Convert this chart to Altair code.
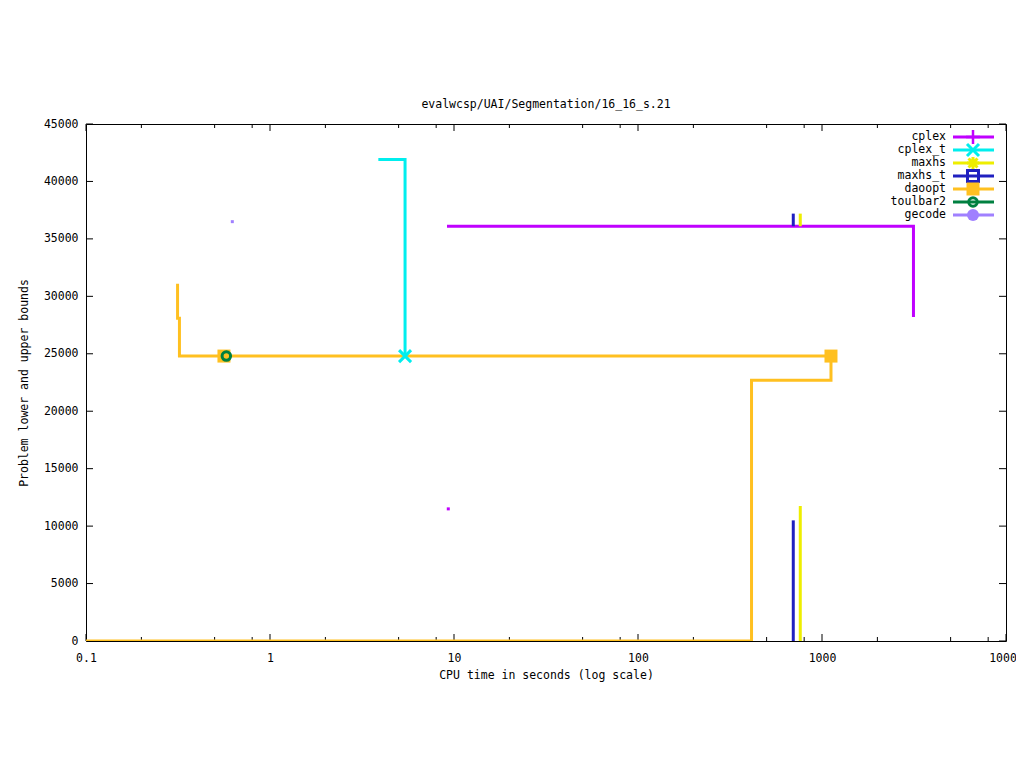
import altair as alt
import pandas as pd

FONT = "DejaVu Sans Mono"
FS = 11.5

series_names = ["cplex", "cplex_t", "maxhs", "maxhs_t", "daoopt", "toulbar2", "gecode"]
series_colors = ["#c000ff", "#00eeee", "#eeee00", "#2020c0", "#ffc020", "#008040", "#a080ff"]

# step lines (series, segment) -> times / values
cplex_up_t = [9.16, 3141]
cplex_up_v = [36100, 28200]
cplex_t_up_t = [3.88, 5.42]
cplex_t_up_v = [41900, 24800]
maxhs_lo_t = [762, 762]
maxhs_lo_v = [0, 11750]
maxhs_up_t = [762, 762]
maxhs_up_v = [37200, 36100]
maxhs_t_lo_t = [698, 698]
maxhs_t_lo_v = [0, 10500]
maxhs_t_up_t = [698, 698]
maxhs_t_up_v = [37200, 36100]
daoopt_up_t = [0.3145, 0.3145, 0.322, 1119]
daoopt_up_v = [31100, 28100, 24800, 24800]
daoopt_lo_t = [0.1, 414, 1119]
daoopt_lo_v = [0, 22700, 24800]

# point markers
marker_series = ["cplex_t", "daoopt", "daoopt", "toulbar2"]
marker_t = [5.42, 0.562, 1119, 0.579]
marker_v = [24800, 24800, 24800, 24800]

# isolated single-sample dots
dot_series = ["cplex", "gecode"]
dot_t = [9.31, 0.624]
dot_v = [11500, 36500]

x_major = [0.1, 1, 10, 100, 1000, 10000]
x_minor = [0.2, 0.5, 0.8, 2, 5, 8, 20, 50, 80, 200, 500, 800, 2000, 5000, 8000]
y_ticks = [0, 5000, 10000, 15000, 20000, 25000, 30000, 35000, 40000, 45000]

segments = [
    ("cplex", "up", cplex_up_t, cplex_up_v),
    ("cplex_t", "up", cplex_t_up_t, cplex_t_up_v),
    ("maxhs", "lo", maxhs_lo_t, maxhs_lo_v),
    ("maxhs", "up", maxhs_up_t, maxhs_up_v),
    ("maxhs_t", "lo", maxhs_t_lo_t, maxhs_t_lo_v),
    ("maxhs_t", "up", maxhs_t_up_t, maxhs_t_up_v),
    ("daoopt", "up", daoopt_up_t, daoopt_up_v),
    ("daoopt", "lo", daoopt_lo_t, daoopt_lo_v),
]
rows = []
for s, seg, ts, vs in segments:
    for i, (t, v) in enumerate(zip(ts, vs)):
        rows.append({"series": s, "seg": s + seg, "i": i, "t": t, "v": v})
lines_df = pd.DataFrame(rows)
markers_df = pd.DataFrame({"series": marker_series, "t": marker_t, "v": marker_v})
dots_df = pd.DataFrame({"series": dot_series, "t": dot_t, "v": dot_v})
legend_df = pd.DataFrame({"series": series_names, "idx": list(range(len(series_names)))})

W, H = 920, 517

x_scale = alt.Scale(type="log", domain=[0.1, 10000], nice=False)
y_scale = alt.Scale(domain=[0, 45000], nice=False, zero=True)
color = alt.Color("series:N", scale=alt.Scale(domain=series_names, range=series_colors), legend=None)

x_axis = alt.Axis(values=x_major, format="~g", title="CPU time in seconds (log scale)",
                  labelPadding=11, titlePadding=6, labelFlush=False, labelOverlap=False,
                  domain=False, ticks=False, grid=False)
y_axis = alt.Axis(values=y_ticks, format="d", title="Problem lower and upper bounds",
                  labelPadding=8, titlePadding=14, domain=False, ticks=False, grid=False)


def X(field="t"):
    return alt.X(f"{field}:Q", scale=x_scale, axis=x_axis)


def Y(field="v"):
    return alt.Y(f"{field}:Q", scale=y_scale, axis=y_axis)


# marker styles per series
P_PLUS = "M-1,0L1,0M0,-1L0,1"
P_X = "M-1,-1L1,1M-1,1L1,-1"
P_AST = "M-1,0L1,0M0,-1L0,1M-0.75,-0.75L0.75,0.75M-0.75,0.75L0.75,-0.75"
mstyle = {
    "cplex": dict(shape=P_PLUS, filled=False, size=196, strokeWidth=2.5),
    "cplex_t": dict(shape=P_X, filled=False, size=144, strokeWidth=3),
    "maxhs": dict(shape=P_AST, filled=False, size=144, strokeWidth=3),
    "maxhs_t": dict(shape="square", filled=False, size=121, strokeWidth=3),
    "daoopt": dict(shape="square", filled=True, size=169, strokeWidth=0),
    "toulbar2": dict(shape="circle", filled=False, size=72, strokeWidth=3),
    "gecode": dict(shape="circle", filled=True, size=144, strokeWidth=0),
}

main_layers = []

# inner ticks (bottom/top/left/right)
xmaj_df = pd.DataFrame({"t": x_major})
xmin_df = pd.DataFrame({"t": x_minor})
yt_df = pd.DataFrame({"v": y_ticks})
tick_color = "black"
main_layers.append(alt.Chart(xmaj_df).mark_rule(color=tick_color, strokeWidth=1).encode(
    x=X(), y=alt.value(H), y2=alt.value(H - 7)))
main_layers.append(alt.Chart(xmaj_df).mark_rule(color=tick_color, strokeWidth=1).encode(
    x=X(), y=alt.value(0), y2=alt.value(7)))
main_layers.append(alt.Chart(xmin_df).mark_rule(color=tick_color, strokeWidth=1).encode(
    x=X(), y=alt.value(H), y2=alt.value(H - 4)))
main_layers.append(alt.Chart(xmin_df).mark_rule(color=tick_color, strokeWidth=1).encode(
    x=X(), y=alt.value(0), y2=alt.value(4)))
main_layers.append(alt.Chart(yt_df).mark_rule(color=tick_color, strokeWidth=1).encode(
    y=Y(), x=alt.value(0), x2=alt.value(7)))
main_layers.append(alt.Chart(yt_df).mark_rule(color=tick_color, strokeWidth=1).encode(
    y=Y(), x=alt.value(W), x2=alt.value(W - 7)))

# step lines, in series order
for name in series_names:
    if name not in set(lines_df["series"]):
        continue
    main_layers.append(
        alt.Chart(lines_df).transform_filter(alt.datum.series == name)
        .mark_line(interpolate="step-after", strokeWidth=3, clip=True)
        .encode(x=X(), y=Y(), color=color, detail="seg:N", order="i:Q")
    )

# isolated dots
main_layers.append(
    alt.Chart(dots_df).mark_square(size=9, opacity=1).encode(x=X(), y=Y(), color=color)
)

# point markers
for name in series_names:
    if name not in set(markers_df["series"]):
        continue
    st = mstyle[name]
    main_layers.append(
        alt.Chart(markers_df).transform_filter(alt.datum.series == name)
        .mark_point(shape=st["shape"], filled=st["filled"], size=st["size"],
                    strokeWidth=st["strokeWidth"], opacity=1)
        .encode(x=X(), y=Y(), color=color)
    )

main = alt.layer(*main_layers)

# key (top-right, inside the frame)
ly = alt.Y("idx:Q", scale=alt.Scale(domain=[0, 6], range=[13, 91]), axis=None)
leg_layers = [
    alt.Chart(legend_df).mark_text(align="right", baseline="middle", font=FONT,
                                   fontSize=FS, color="black").encode(
        x=alt.value(860), y=ly, text="series:N"),
    alt.Chart(legend_df).mark_rule(strokeWidth=3).encode(
        x=alt.value(867), x2=alt.value(908), y=ly, color=color),
]
for name in series_names:
    st = mstyle[name]
    leg_layers.append(
        alt.Chart(legend_df).transform_filter(alt.datum.series == name)
        .mark_point(shape=st["shape"], filled=st["filled"], size=st["size"],
                    strokeWidth=st["strokeWidth"], opacity=1)
        .encode(x=alt.value(887), y=ly, color=color)
    )
legend = alt.layer(*leg_layers)

chart = (
    alt.layer(main, legend)
    .resolve_scale(y="independent")
    .properties(
        width=W,
        height=H,
        title=alt.TitleParams("evalwcsp/UAI/Segmentation/16_16_s.21", font=FONT, fontSize=FS,
                              fontWeight="normal", color="black", offset=8, anchor="middle",
                              frame="group"),
        autosize=alt.AutoSizeParams(type="none"),
        padding={"left": 78, "top": 116, "right": 10, "bottom": 60},
        background="white",
    )
    .configure_view(stroke="black", strokeWidth=1)
    .configure_axis(labelFont=FONT, labelFontSize=FS, labelColor="black",
                    titleFont=FONT, titleFontSize=FS, titleFontWeight="normal", titleColor="black",
                    domain=False, ticks=False, grid=False)
)

chart.save("out.html", embed_options={"renderer": "svg", "actions": False})
